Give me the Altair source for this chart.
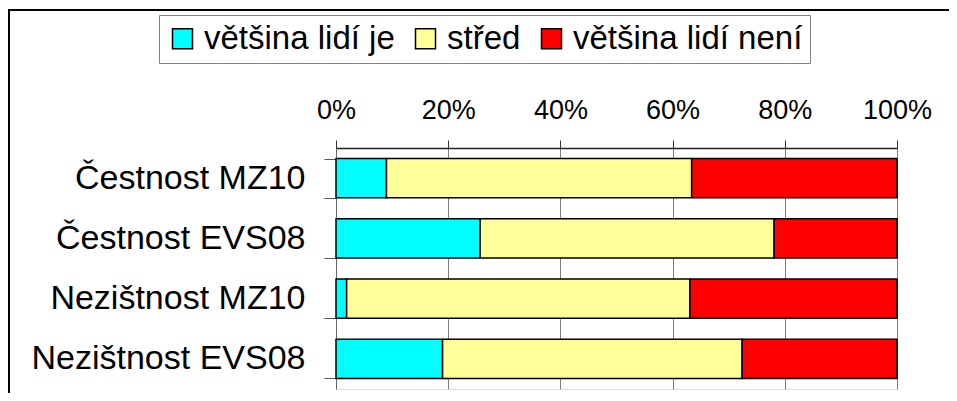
import altair as alt
import pandas as pd

categories = ["Čestnost MZ10", "Čestnost EVS08", "Nezištnost MZ10", "Nezištnost EVS08"]
series = ["většina lidí je", "střed", "většina lidí není"]
majority_yes = [9.0, 25.7, 1.9, 19.0]
middle = [54.4, 52.4, 61.2, 53.4]
majority_no = [36.6, 21.9, 36.9, 27.6]
colors = ["#00FFFF", "#FFFF99", "#FF0000"]
tick_values = [0, 0.2, 0.4, 0.6, 0.8, 1.0]

rows = []
for i, cat in enumerate(categories):
    for j, (name, vals) in enumerate(zip(series, [majority_yes, middle, majority_no])):
        rows.append({"cat": cat, "series": name, "value": vals[i], "idx": j})
df = pd.DataFrame(rows)

FONT = "Liberation Sans"

bars = alt.Chart(df).mark_bar(stroke="black", strokeWidth=1.5).encode(
    y=alt.Y(
        "cat:N",
        sort=categories,
        scale=alt.Scale(paddingInner=0.35, paddingOuter=0.175),
        axis=alt.Axis(
            title=None, labelFontSize=34, labelFont=FONT, labelColor="black",
            tickBand="extent", ticks=True, tickSize=12, tickColor="#555555",
            domainColor="#666666", labelPadding=19, grid=False, labelLimit=400,
        ),
    ),
    x=alt.X(
        "value:Q",
        stack="normalize",
        scale=alt.Scale(domain=[0, 1], nice=False),
        axis=alt.Axis(
            orient="top", values=tick_values, format="%", title=None,
            labelFontSize=27, labelFont=FONT, labelColor="black",
            labelFlush=False, labelOverlap=False,
            tickSize=8, tickColor="#333333", labelPadding=16,
            grid=True, gridColor="#808080", gridWidth=1,
            domainColor="#222222", domainWidth=1.5,
        ),
    ),
    fill=alt.Fill(
        "series:N",
        scale=alt.Scale(domain=series, range=colors),
        legend=alt.Legend(
            title=None, orient="none", legendX=-177, legendY=-133,
            direction="horizontal", columns=3,
            symbolType="square", symbolSize=400, symbolStrokeColor="black",
            symbolStrokeWidth=1.5, symbolOpacity=1,
            labelFontSize=33, labelFont=FONT, labelColor="black", labelLimit=400,
            labelOffset=5, columnPadding=14, padding=7,
            strokeColor="#808080", fillColor="white",
        ),
    ),
    order=alt.Order("idx:Q"),
)

one = pd.DataFrame({"a": [0]})
frame_top = alt.Chart(one).mark_rule(color="black", strokeWidth=2).encode(
    x=alt.value(-328), x2=alt.value(700), y=alt.value(-138)
)
frame_left = alt.Chart(one).mark_rule(color="black", strokeWidth=2).encode(
    x=alt.value(-327), y=alt.value(-139), y2=alt.value(300)
)

chart = alt.layer(bars, frame_top, frame_left).properties(
    width=561,
    height=241,
    autosize=alt.AutoSizeParams(type="none"),
    padding={"left": 328, "top": 140, "right": 52, "bottom": 4},
).configure_view(stroke="#808080", strokeWidth=1).configure(font=FONT)

chart.save("out.html", embed_options={"renderer": "svg", "actions": False})
